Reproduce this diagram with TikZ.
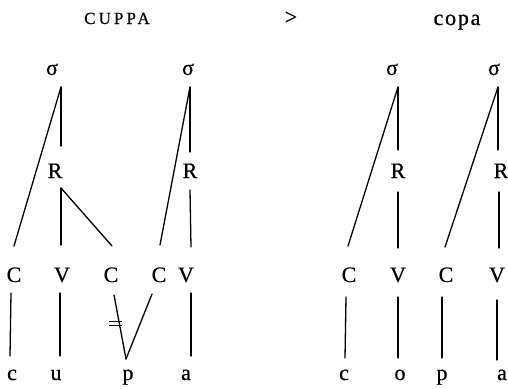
\documentclass[tikz,border=0pt]{standalone}
\usepackage{fontspec}
\setmainfont{Liberation Serif}[FakeBold=0.6]
\begin{document}
\begin{tikzpicture}[x=1pt,y=-1pt,
  lbl/.style={font=\fontsize{22}{22}\selectfont, inner sep=0pt, anchor=base},
  head/.style={inner sep=0pt, anchor=base},
  link/.style={line width=1.3pt, line cap=round}]
\useasboundingbox (0,0) rectangle (508,388);

% titles
\node[head, font=\fontsize{17}{17}\selectfont\addfontfeature{LetterSpace=18}] (tin) at (117,24) {CUPPA};
\node[inner sep=0pt, font=\fontsize{22}{22}\selectfont] (arr) at (291,18) {>};
\node[head, font=\fontsize{22}{22}\selectfont\addfontfeature{LetterSpace=8}] (tout) at (457,25) {copa};

% ---- left form: cu.ppa ----
\node[lbl] (s1) at (52,75) {σ};
\node[lbl] (s2) at (188,75) {σ};
\node[lbl] (r1) at (55,178) {R};
\node[lbl] (r2) at (190,178) {R};
\node[lbl] (c1) at (14,282) {C};
\node[lbl] (v1) at (62,282) {V};
\node[lbl] (c2) at (111,282) {C};
\node[lbl] (c3) at (159,282) {C};
\node[lbl] (v2) at (186,282) {V};
\node[lbl] (sc) at (12,380) {c};
\node[lbl] (su) at (56,380) {u};
\node[lbl] (sp) at (128,380) {p};
\node[lbl] (sa) at (186,380) {a};

% line ends
\coordinate (s1b) at (61,87);   \coordinate (s2b) at (190,87);
\coordinate (r1t) at (61,146);  \coordinate (r2t) at (190,152);
\coordinate (r1b) at (61,188);  \coordinate (r2b) at (190,190);
\coordinate (c1t) at (14,246);  \coordinate (v1t) at (61,245);
\coordinate (c2t) at (112,246); \coordinate (c3t) at (160,245);
\coordinate (v2t) at (191,247);
\coordinate (c1b) at (11,293);  \coordinate (v1b) at (60,293);
\coordinate (c2b) at (114,295); \coordinate (c3b) at (152,294);
\coordinate (v2b) at (191,293);
\coordinate (sct) at (10,356);  \coordinate (sut) at (60,356);
\coordinate (spt) at (126,359); \coordinate (sat) at (191,356);

\draw[link] (s1b) -- (c1t);
\draw[link] (s1b) -- (r1t);
\draw[link] (r1b) -- (v1t);
\draw[link] (r1b) -- (c2t);
\draw[link] (s2b) -- (c3t);
\draw[link] (s2b) -- (r2t);
\draw[link] (r2b) -- (v2t);
\draw[link] (c1b) -- (sct);
\draw[link] (v1b) -- (sut);
\draw[link] (c2b) -- (spt);
\draw[link] (c3b) -- (spt);
\draw[link] (v2b) -- (sat);
% delinking bars on C--p
\coordinate (dl1) at (109,321.5); \coordinate (dr1) at (122,321.5);
\coordinate (dl2) at (109,325.5); \coordinate (dr2) at (122,325.5);
\draw[line width=1pt] (dl1) -- (dr1);
\draw[line width=1pt] (dl2) -- (dr2);

% ---- right form: co.pa ----
\node[lbl] (s3) at (392,75) {σ};
\node[lbl] (s4) at (494,75) {σ};
\node[lbl] (r3) at (398,178) {R};
\node[lbl] (r4) at (501,178) {R};
\node[lbl] (c4) at (349,282) {C};
\node[lbl] (v3) at (398,282) {V};
\node[lbl] (c5) at (446,282) {C};
\node[lbl] (v4) at (497,282) {V};
\node[lbl] (tc) at (344,380) {c};
\node[lbl] (to) at (400,380) {o};
\node[lbl] (tp) at (442,380) {p};
\node[lbl] (ta) at (502,380) {a};

\coordinate (s3b) at (398,87);  \coordinate (s4b) at (498,87);
\coordinate (r3t) at (398,150); \coordinate (r4t) at (498,150);
\coordinate (r3b) at (398,192); \coordinate (r4b) at (499,192);
\coordinate (c4t) at (348,246); \coordinate (v3t) at (398,248);
\coordinate (c5t) at (445,247); \coordinate (v4t) at (499,248);
\coordinate (c4b) at (346,297); \coordinate (v3b) at (398,297);
\coordinate (c5b) at (442,297); \coordinate (v4b) at (497,300);
\coordinate (tct) at (345,358); \coordinate (tot) at (398,358);
\coordinate (tpt) at (442,358); \coordinate (tat) at (497,360);

\draw[link] (s3b) -- (c4t);
\draw[link] (s3b) -- (r3t);
\draw[link] (r3b) -- (v3t);
\draw[link] (s4b) -- (c5t);
\draw[link] (s4b) -- (r4t);
\draw[link] (r4b) -- (v4t);
\draw[link] (c4b) -- (tct);
\draw[link] (v3b) -- (tot);
\draw[link] (c5b) -- (tpt);
\draw[link] (v4b) -- (tat);
\end{tikzpicture}
\end{document}
